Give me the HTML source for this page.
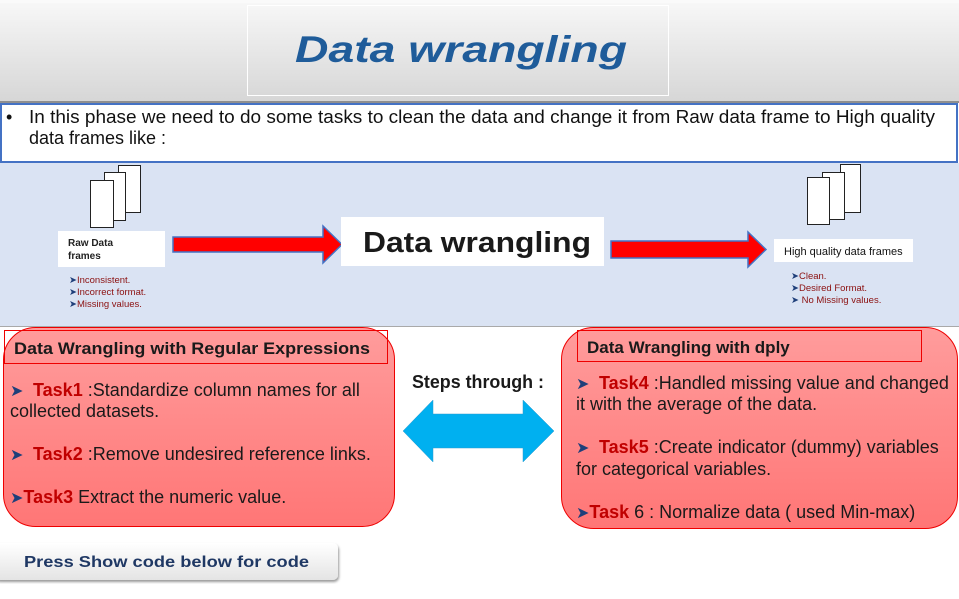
<!DOCTYPE html>
<html><head><meta charset="utf-8"><style>
body{margin:0;width:959px;height:599px;overflow:hidden;background:#fff;font-family:"Liberation Sans",Arial,sans-serif}
svg{position:absolute;left:0;top:0}
</style></head><body>
<svg width="959" height="599" viewBox="0 0 959 599" font-family="Liberation Sans, Arial, sans-serif">
<defs>
<linearGradient id="hd" x1="0" y1="0" x2="0" y2="1"><stop offset="0" stop-color="#f8f8f8"/><stop offset="1" stop-color="#d6d6d6"/></linearGradient>
<linearGradient id="rb" x1="0" y1="0" x2="0" y2="1"><stop offset="0" stop-color="#ff9c9c"/><stop offset="1" stop-color="#ff7676"/></linearGradient>
<linearGradient id="bt" x1="0" y1="0" x2="0" y2="1"><stop offset="0" stop-color="#ffffff"/><stop offset="1" stop-color="#e4e4e4"/></linearGradient>
<filter id="sh"><feDropShadow dx="1" dy="2" stdDeviation="1.2" flood-color="#000" flood-opacity="0.4"/></filter>
</defs>
<rect x="0" y="0" width="959" height="102" fill="url(#hd)"/>
<rect x="0" y="0" width="959" height="3" fill="#fafafa"/>
<rect x="247.5" y="5.5" width="421" height="90" fill="none" stroke="#fff" stroke-width="1"/>
<rect x="0" y="101" width="959" height="2" fill="#8f8f8f"/>
<text x="295" y="62" font-size="37" font-weight="bold" font-style="italic" fill="#1f5c9a" textLength="332" lengthAdjust="spacingAndGlyphs">Data wrangling</text>
<rect x="1" y="104" width="956" height="58" fill="#fff" stroke="#4472c4" stroke-width="2"/>
<text x="6" y="123" font-size="18" fill="#111">•</text>
<text x="29" y="123" font-size="18" fill="#111" textLength="906" lengthAdjust="spacingAndGlyphs">In this phase we need to do some tasks to clean the data and change it from Raw data frame to High quality</text>
<text x="29" y="144" font-size="18" fill="#111">data frames like :</text>
<rect x="0" y="163" width="959" height="164" fill="#dae3f3"/>
<rect x="0" y="326" width="959" height="1" fill="#a9a9a9"/>
<g fill="#fff" stroke="#222" stroke-width="1">
<rect x="118.5" y="165.5" width="22" height="47"/>
<rect x="104.5" y="172.5" width="21" height="48"/>
<rect x="90.5" y="180.5" width="23" height="47"/>
<rect x="840.5" y="164.5" width="20" height="48"/>
<rect x="822.5" y="172.5" width="22" height="47"/>
<rect x="807.5" y="177.5" width="22" height="47"/>
</g>
<rect x="58" y="231" width="107" height="36" fill="#fff"/>
<text x="68" y="246" font-size="10" font-weight="bold" fill="#222">Raw Data</text>
<text x="68" y="259" font-size="10" font-weight="bold" fill="#222">frames</text>
<g font-size="9.5" fill="#8b1010">
<text x="69" y="283"><tspan fill="#1f3f7a">➤</tspan>Inconsistent.</text>
<text x="69" y="295"><tspan fill="#1f3f7a">➤</tspan>Incorrect format.</text>
<text x="69" y="307"><tspan fill="#1f3f7a">➤</tspan>Missing values.</text>
<text x="791" y="279"><tspan fill="#1f3f7a">➤</tspan>Clean.</text>
<text x="791" y="291"><tspan fill="#1f3f7a">➤</tspan>Desired Format.</text>
<text x="791" y="303"><tspan fill="#1f3f7a">➤</tspan> No Missing values.</text>
</g>
<polygon points="173,237 323,237 323,226 342,244.5 323,263 323,252 173,252" fill="#ff0000" stroke="#4472c4" stroke-width="1.5"/>
<polygon points="611,241 748,241 748,232 766,249.5 748,267 748,258 611,258" fill="#ff0000" stroke="#4472c4" stroke-width="1.5"/>
<rect x="341" y="217" width="263" height="49" fill="#fff"/>
<text x="363" y="252" font-size="29" font-weight="bold" fill="#1a1a1a" textLength="228" lengthAdjust="spacingAndGlyphs">Data wrangling</text>
<rect x="774" y="239" width="139" height="23" fill="#fff"/>
<text x="784" y="255" font-size="11" fill="#111">High quality data frames</text>
<!-- left box -->
<rect x="3.5" y="327.5" width="391" height="199" rx="32" fill="url(#rb)" stroke="#e00" stroke-width="1"/>
<rect x="4.5" y="330.5" width="383" height="33" fill="none" stroke="#e00" stroke-width="1"/>
<text x="14" y="354" font-size="17" font-weight="bold" fill="#1a1a1a" textLength="356" lengthAdjust="spacingAndGlyphs">Data Wrangling with Regular Expressions</text>
<g font-size="18" fill="#1a1a1a">
<text x="10" y="396"><tspan fill="#1f3f7a" font-size="16">➤</tspan><tspan x="33" fill="#c00000" font-weight="bold">Task1</tspan> :Standardize column names for all</text>
<text x="10" y="417">collected datasets.</text>
<text x="10" y="460"><tspan fill="#1f3f7a" font-size="16">➤</tspan><tspan x="33" fill="#c00000" font-weight="bold">Task2</tspan> :Remove undesired reference links.</text>
<text x="10" y="503"><tspan fill="#1f3f7a" font-size="16">➤</tspan><tspan fill="#c00000" font-weight="bold">Task3</tspan> Extract the numeric value.</text>
</g>
<!-- right box -->
<rect x="561.5" y="327.5" width="396" height="201" rx="32" fill="url(#rb)" stroke="#e00" stroke-width="1"/>
<rect x="577.5" y="330.5" width="344" height="31" fill="none" stroke="#e00" stroke-width="1"/>
<text x="587" y="353" font-size="17" font-weight="bold" fill="#1a1a1a">Data Wrangling with dply</text>
<g font-size="18" fill="#1a1a1a">
<text x="576" y="389"><tspan fill="#1f3f7a" font-size="16">➤</tspan><tspan x="599" fill="#c00000" font-weight="bold">Task4</tspan> :Handled missing value and changed</text>
<text x="576" y="410">it with the average of the data.</text>
<text x="576" y="453"><tspan fill="#1f3f7a" font-size="16">➤</tspan><tspan x="599" fill="#c00000" font-weight="bold">Task5</tspan> :Create indicator (dummy) variables</text>
<text x="576" y="475">for categorical variables.</text>
<text x="576" y="518"><tspan fill="#1f3f7a" font-size="16">➤</tspan><tspan fill="#c00000" font-weight="bold">Task</tspan> 6 : Normalize data ( used Min-max)</text>
</g>
<text x="412" y="388" font-size="18" font-weight="bold" fill="#1a1a1a" textLength="132" lengthAdjust="spacingAndGlyphs">Steps through :</text>
<polygon points="403,431 433,400 433,414 523,414 523,400 554,431 523,462 523,448 433,448 433,462" fill="#00b0f0" stroke="#3399cc" stroke-width="0.5"/>
<rect x="-6" y="543" width="344" height="37" rx="5" fill="url(#bt)" filter="url(#sh)"/>
<text x="24" y="567" font-size="16" font-weight="bold" fill="#1f3864" textLength="285" lengthAdjust="spacingAndGlyphs">Press Show code below for code</text>
</svg>
</body></html>
